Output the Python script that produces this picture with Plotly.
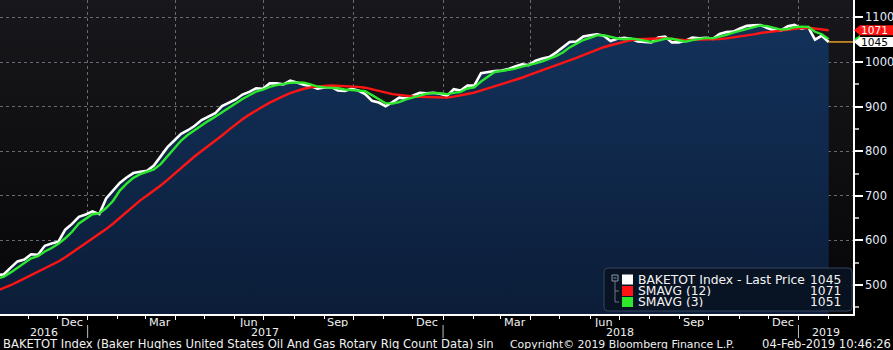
import base64
import pandas as pd
import plotly.graph_objects as go

# Baker Hughes US total rotary rig count, weekly (Fridays) 30-Sep-2016 .. 01-Feb-2019
first_week = "2016-09-30"
rig_count = [
    522, 524, 539, 553, 557, 569, 568, 588, 593, 597, 624, 637, 653, 658,
    665, 659, 694, 712, 729, 741, 751, 754, 756, 768, 789, 809, 824, 839, 847, 857,
    870, 877, 885, 901, 908, 916, 927, 933, 941, 940, 952, 952, 950, 958, 954, 949,
    946, 940, 943, 944, 936, 935, 940, 936, 928, 913, 909, 901, 910, 920, 918, 925,
    931, 930, 931, 929,
    924, 939, 936, 947, 947, 975, 978, 980, 981, 984, 990, 995, 993, 1003, 1008, 1011,
    1021, 1032, 1045, 1046, 1057, 1060, 1062, 1059, 1047, 1052, 1054, 1052, 1046, 1045,
    1044, 1055, 1057, 1044, 1044, 1048, 1055, 1053, 1054, 1052, 1063, 1067, 1068, 1075,
    1081, 1082, 1083, 1076, 1071, 1071, 1080, 1083,
    1075, 1078, 1050, 1059, 1045,
]

# SMAVG (12) of the weekly count
sma_12 = [
    487.1, 493.1, 499.5, 507.0, 514.8, 522.5, 528.9, 537.2, 545.2, 552.6, 562.1, 572.6, 583.5, 594.7,
    605.2, 614.0, 625.4, 637.3, 650.8, 663.5, 676.7, 689.8, 700.8, 711.7, 723.0, 735.6, 748.8, 763.8,
    776.6, 788.7, 800.4, 811.8, 822.9, 835.2, 847.8, 860.2, 871.7, 882.0, 891.8, 900.2, 908.9, 916.8,
    923.5, 930.3, 936.0, 940.0, 943.2, 945.2, 946.5, 947.4, 947.0, 946.6, 945.6, 944.3, 942.4, 938.7,
    934.9, 930.9, 927.9, 926.3, 924.2, 922.6, 922.2, 921.8, 921.0, 920.4,
    920.1, 922.3, 924.5, 928.3, 931.4, 936.0, 941.0, 945.6, 949.8, 954.3, 959.2, 964.7, 970.4, 975.8,
    981.8, 987.1, 993.3, 998.0, 1003.6, 1009.1, 1015.4, 1021.8, 1027.8, 1033.1, 1037.6, 1041.7, 1045.5,
    1048.9, 1051.0, 1052.1, 1052.0, 1052.8, 1052.8, 1051.4, 1049.9, 1049.0, 1049.7, 1049.8, 1049.8,
    1049.8, 1051.2, 1053.0, 1055.0, 1056.7, 1058.7, 1061.8, 1065.1, 1067.4, 1068.8, 1070.3, 1072.4,
    1075.0,
    1076.0, 1076.9, 1075.4, 1074.1, 1071.1,
]

# SMAVG (3) of the weekly count
sma_3 = [
    514.3, 519.0, 528.3, 538.7, 549.7, 559.7, 564.7, 575.0, 583.0, 592.7, 604.7, 619.3, 638.0, 649.3,
    658.7, 660.7, 672.7, 688.3, 711.7, 727.3, 740.3, 748.7, 753.7, 759.3, 771.0, 788.7, 807.3, 824.0,
    836.7, 847.7, 858.0, 868.0, 877.3, 887.7, 898.0, 908.3, 917.0, 925.3, 933.7, 938.0, 944.3, 948.0,
    951.3, 953.3, 954.0, 953.7, 949.7, 945.0, 943.0, 942.3, 941.0, 938.3, 937.0, 937.0, 934.7, 925.7,
    916.7, 907.7, 906.7, 910.3, 916.0, 921.0, 924.7, 928.7, 930.7, 930.0,
    928.0, 930.7, 933.0, 940.7, 943.3, 956.3, 966.7, 977.7, 979.7, 981.7, 985.0, 989.7, 992.7, 997.0,
    1001.3, 1007.3, 1013.3, 1021.3, 1032.7, 1041.0, 1049.3, 1054.3, 1059.7, 1060.3, 1056.0, 1052.7,
    1051.0, 1052.7, 1050.7, 1047.7, 1045.0, 1048.0, 1052.0, 1052.0, 1048.3, 1045.3, 1049.0, 1052.0,
    1054.0, 1053.0, 1056.3, 1060.7, 1066.0, 1070.0, 1074.7, 1079.3, 1082.0, 1080.3, 1076.7, 1072.7,
    1074.0, 1078.0,
    1079.3, 1078.7, 1067.7, 1062.3, 1051.3,
]

legend_names = ["BAKETOT Index - Last Price", "SMAVG (12)", "SMAVG (3)"]

# axis text
month_label_dates = ["2016-12-16", "2017-03-16", "2017-06-15", "2017-09-15", "2017-12-16",
                     "2018-03-16", "2018-06-15", "2018-09-15", "2018-12-16"]
month_labels = ["Dec", "Mar", "Jun", "Sep", "Dec", "Mar", "Jun", "Sep", "Dec"]
year_label_dates = ["2016-11-17", "2017-07-02", "2018-07-02", "2019-01-29"]
year_labels = ["2016", "2017", "2018", "2019"]
year_breaks = ["2017-01-01", "2018-01-01", "2019-01-01"]
quarter_lines = ["2017-01-01", "2017-04-01", "2017-07-01", "2017-10-01", "2018-01-01",
                 "2018-04-01", "2018-07-01", "2018-10-01", "2019-01-01"]
y_ticks = [500, 600, 700, 800, 900, 1000, 1100]

footer_left = "BAKETOT Index (Baker Hughes United States Oil And Gas Rotary Rig Count Data) sin"
footer_mid = "Copyright\u00a9 2019 Bloomberg Finance L.P."
footer_right = "04-Feb-2019 10:46:26"

weeks = pd.date_range(first_week, periods=len(rig_count), freq="7D")

# ---- geometry -------------------------------------------------------------
W, H = 893, 350
BOTTOM = 36
PLOT_H = H - BOTTOM
AXIS_X = 853 / W
x_range = ["2016-10-03", "2019-02-26"]
y_range = [435, 1139]
FONT = "DejaVu Sans"

WHITE = "#ffffff"
RED = "#ff1414"
GREEN = "#2ee82e"
ORANGE = "#f5a623"


def px(x):
    return x / W


def py(y):
    return (PLOT_H - y) / PLOT_H


fig = go.Figure()

fig.add_trace(go.Scatter(
    x=weeks, y=rig_count, mode="lines",
    line=dict(color=WHITE, width=2.6),
    fill="tozeroy",
    fillgradient=dict(type="vertical", start=y_range[0], stop=1100,
                      colorscale=[[0, "#0b1d38"], [1, "#13325b"]]),
    hoverinfo="skip",
))
fig.add_trace(go.Scatter(x=weeks, y=sma_12, mode="lines",
                         line=dict(color=RED, width=2.4), hoverinfo="skip"))
fig.add_trace(go.Scatter(x=weeks, y=sma_3, mode="lines",
                         line=dict(color=GREEN, width=2.4), hoverinfo="skip"))
# last-price guide running to the value axis
fig.add_trace(go.Scatter(x=[weeks[-1], x_range[1]], y=[rig_count[-1], rig_count[-1]],
                         mode="lines", line=dict(color=ORANGE, width=1.4),
                         hoverinfo="skip"))

# plot background: dark vertical gradient
svg = ('<svg xmlns="http://www.w3.org/2000/svg" width="10" height="100" '
       'preserveAspectRatio="none"><defs><linearGradient id="g" x1="0" y1="0" x2="0" y2="1">'
       '<stop offset="0" stop-color="#18181c"/><stop offset="1" stop-color="#060608"/>'
       '</linearGradient></defs><rect width="10" height="100" fill="url(#g)"/></svg>')
bg_src = "data:image/svg+xml;base64," + base64.b64encode(svg.encode()).decode()

shapes = []
annotations = []

# year separators under the axis
for d in year_breaks:
    shapes.append(dict(type="line", xref="x", yref="paper", x0=d, x1=d,
                       y0=-11 / PLOT_H, y1=-24 / PLOT_H,
                       line=dict(color="#bdbdbd", width=1)))

for d, t in zip(month_label_dates, month_labels):
    annotations.append(dict(x=d, y=0, xref="x", yref="paper", text=t, showarrow=False,
                            xanchor="center", yanchor="middle", yshift=-7.5, height=10,
                            font=dict(family=FONT, size=11.3, color="#f0f0f0")))
for d, t in zip(year_label_dates, year_labels):
    annotations.append(dict(x=d, y=0, xref="x", yref="paper", text=t, showarrow=False,
                            xanchor="center", yanchor="middle", yshift=-17.5, height=10,
                            font=dict(family=FONT, size=11, color="#f0f0f0")))

foot_font = dict(family=FONT, size=11.6, color="#f0f0f0")
annotations.append(dict(x=px(1), y=0, xref="paper", yref="paper", text=footer_left,
                        showarrow=False, xanchor="left", yanchor="middle", yshift=-30,
                        height=10, font=foot_font))
annotations.append(dict(x=px(508), y=0, xref="paper", yref="paper", text=footer_mid,
                        showarrow=False, xanchor="left", yanchor="middle", yshift=-30,
                        height=10, font=dict(family=FONT, size=10.9, color="#f0f0f0")))
annotations.append(dict(x=px(893), y=0, xref="paper", yref="paper", text=footer_right,
                        showarrow=False, xanchor="right", yanchor="middle", yshift=-30,
                        height=10, font=foot_font))

# ---- legend box -------------------------------------------------------------
lx0, lx1, ly0, ly1 = 604, 852, 268, 311
r = 4
rx, ry = r / W, r / PLOT_H
X0, X1, Y0, Y1 = px(lx0), px(lx1), py(ly1), py(ly0)
legend_path = (f"M{X0 + rx},{Y0} L{X1 - rx},{Y0} Q{X1},{Y0} {X1},{Y0 + ry} "
               f"L{X1},{Y1 - ry} Q{X1},{Y1} {X1 - rx},{Y1} L{X0 + rx},{Y1} "
               f"Q{X0},{Y1} {X0},{Y1 - ry} L{X0},{Y0 + ry} Q{X0},{Y0} {X0 + rx},{Y0} Z")
shapes.append(dict(type="path", xref="paper", yref="paper", path=legend_path,
                   fillcolor="rgba(9,18,34,0.92)", line=dict(color="#34445e", width=1),
                   layer="above"))

# tree glyph at the left of the legend
shapes.append(dict(type="rect", xref="paper", yref="paper", x0=px(612), x1=px(618),
                   y0=py(281), y1=py(275), line=dict(color="#8a95a5", width=1),
                   fillcolor="rgba(0,0,0,0)", layer="above"))
shapes.append(dict(type="line", xref="paper", yref="paper", x0=px(613.5), x1=px(616.5),
                   y0=py(278), y1=py(278), line=dict(color="#8a95a5", width=1), layer="above"))
shapes.append(dict(type="line", xref="paper", yref="paper", x0=px(615), x1=px(615),
                   y0=py(281), y1=py(302), line=dict(color="#6a7585", width=1), layer="above"))
for yy in (291, 302):
    shapes.append(dict(type="line", xref="paper", yref="paper", x0=px(615), x1=px(619),
                       y0=py(yy), y1=py(yy), line=dict(color="#6a7585", width=1),
                       layer="above"))

legend_colors = [WHITE, RED, GREEN]
legend_values = [f"{rig_count[-1]:.0f}", f"{sma_12[-1]:.0f}", f"{sma_3[-1]:.0f}"]
row_centers = [279.5, 291, 302]
leg_font = dict(family=FONT, size=12.3, color="#f4f4f4")
for name, col, val, yc in zip(legend_names, legend_colors, legend_values, row_centers):
    shapes.append(dict(type="rect", xref="paper", yref="paper",
                       x0=px(622), x1=px(633), y0=py(yc + 5), y1=py(yc - 5),
                       fillcolor=col, line=dict(width=0), layer="above"))
    annotations.append(dict(x=px(636), y=py(yc), xref="paper", yref="paper", text=name,
                            showarrow=False, xanchor="left", yanchor="middle", height=10,
                            font=leg_font))
    annotations.append(dict(x=px(843), y=py(yc), xref="paper", yref="paper", text=val,
                            showarrow=False, xanchor="right", yanchor="middle", height=10,
                            font=leg_font))

# ---- last-value tags on the value axis ------------------------------------------
tag_path = "M1,0 L7,5 L40,5 L40,-5 L7,-5 Z"
shapes.append(dict(type="path", xref="paper", yref="y", xsizemode="pixel", ysizemode="pixel",
                   xanchor=AXIS_X, yanchor=sma_3[-1], path="M1,0 L7,4 L7,-4 Z",
                   fillcolor=GREEN, line=dict(width=0), layer="above"))
for val, fill, txt in ((sma_12[-1], RED, WHITE), (rig_count[-1], WHITE, "#000000")):
    shapes.append(dict(type="path", xref="paper", yref="y", xsizemode="pixel",
                       ysizemode="pixel", xanchor=AXIS_X, yanchor=val, path=tag_path,
                       fillcolor=fill, line=dict(width=0), layer="above"))
    annotations.append(dict(x=px(859), y=val, xref="paper", yref="y", text=f"{val:.0f}",
                            showarrow=False, xanchor="left", yanchor="middle", height=10,
                            font=dict(family=FONT, size=10.6, color=txt)))

fig.update_layout(
    width=W, height=H, autosize=False,
    margin=dict(l=0, r=0, t=0, b=BOTTOM, pad=0),
    paper_bgcolor="#000000",
    plot_bgcolor="rgba(0,0,0,0)",
    showlegend=False,
    hovermode=False,
    images=[dict(source=bg_src, xref="paper", yref="paper", x=0, y=1, sizex=AXIS_X, sizey=1,
                 xanchor="left", yanchor="top", sizing="stretch", layer="below")],
    shapes=shapes,
    annotations=annotations,
    xaxis=dict(
        domain=[0, AXIS_X], range=x_range, type="date",
        tickmode="array", tickvals=quarter_lines, showticklabels=False,
        ticks="outside", ticklen=4, tickcolor=WHITE, tickwidth=1,
        showgrid=True, gridcolor="#666a72", griddash="dot", gridwidth=1,
        showline=True, linecolor=WHITE, linewidth=1.5,
        zeroline=False,
        minor=dict(tickmode="linear", tick0="2016-10-01", dtick="M1", ticks="outside",
                   ticklen=3, tickcolor=WHITE, tickwidth=1, showgrid=False),
    ),
    yaxis=dict(
        side="right", range=y_range,
        tickmode="array", tickvals=y_ticks,
        ticks="outside", ticklen=8, tickwidth=2, tickcolor=WHITE,
        tickfont=dict(family=FONT, size=11.5, color="#e4ecfb"),
        showgrid=True, gridcolor="#666a72", griddash="dot", gridwidth=1,
        showline=True, linecolor=WHITE, linewidth=1.5,
        zeroline=False,
        minor=dict(tickmode="linear", tick0=450, dtick=100, ticks="outside", ticklen=4,
                   tickcolor="#a8a8a8", tickwidth=2, showgrid=False),
    ),
)

fig.write_html("out.html", config={"displayModeBar": False})
